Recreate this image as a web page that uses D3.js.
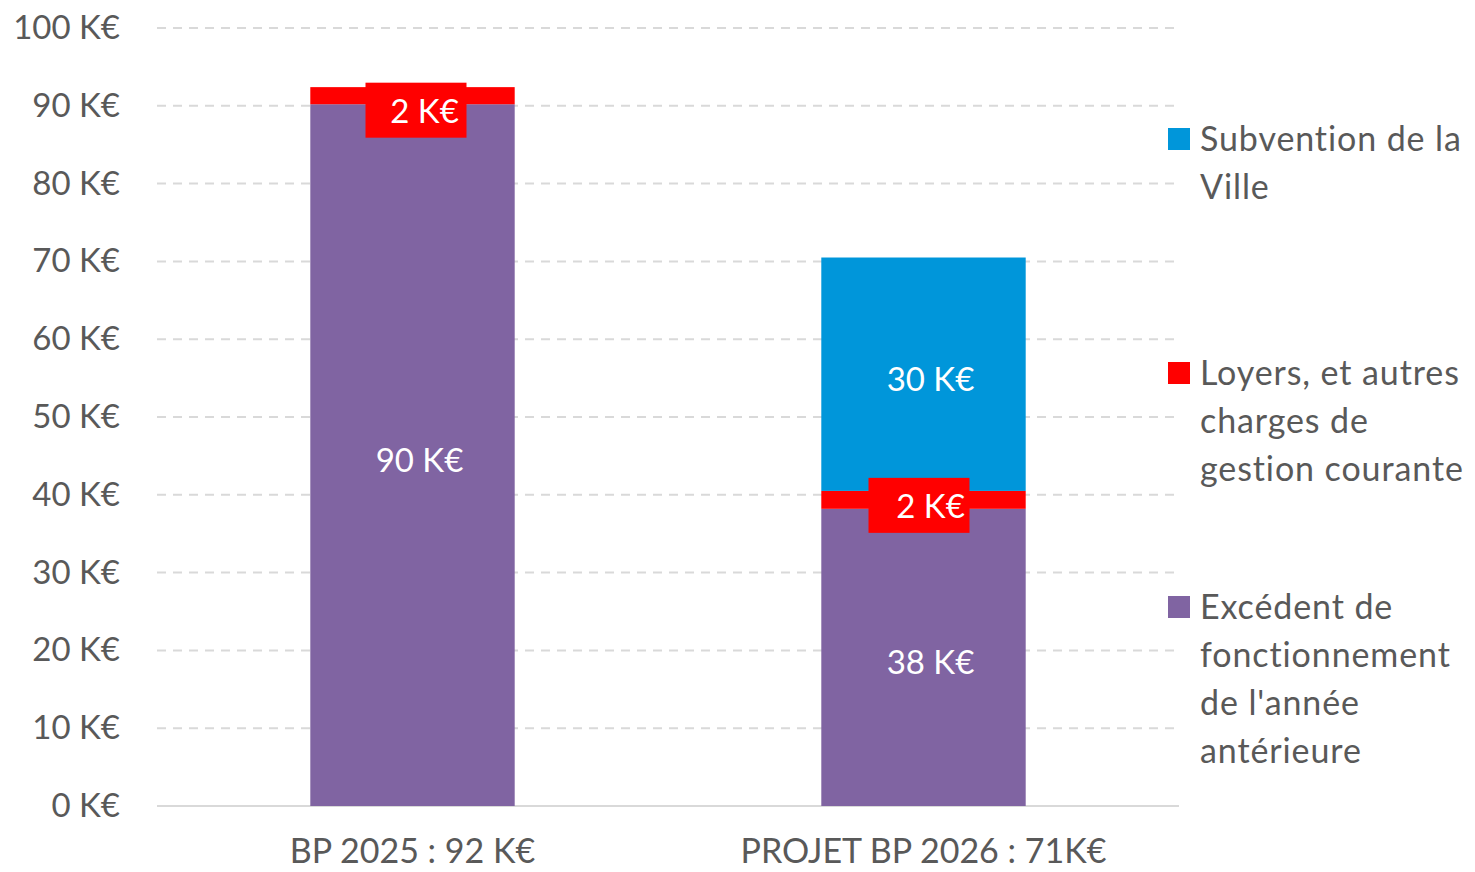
<!DOCTYPE html>
<html>
<head>
<meta charset="utf-8">
<script src="https://cdn.jsdelivr.net/npm/d3@7"></script>
<style>
  body { margin: 0; background: #fff; }
  svg text { font-family: Lato, "Open Sans", sans-serif; }
</style>
</head>
<body>
<div id="chart"></div>
<script>
// data
const categories = ['BP 2025 : 92 K€', 'PROJET BP 2026 : 71K€'];
const excedent = [90.2, 38.2];
const loyers = [2.2, 2.3];
const subvention = [0, 30];
const tickValues = [0, 10, 20, 30, 40, 50, 60, 70, 80, 90, 100];
const seriesNames = ['Excédent de fonctionnement de l\'année antérieure',
                     'Loyers, et autres charges de gestion courante',
                     'Subvention de la Ville'];
const labelTexts = [['90 K€', '38 K€'], ['2 K€', '2 K€'], ['', '30 K€']];

const width = 1475, height = 872;
const colors = ['#8064A2', '#FF0000', '#0096DA'];
const textGray = '#595959';
// small nudges of the boxed red labels, per bar (as placed in the original)
const boxShiftX = [4, -4];
const boxShiftY = [14, 5];
const boxTextShiftX = [8, 11];

const svg = d3.select('#chart').append('svg')
    .attr('width', width)
    .attr('height', height);

const x = d3.scaleBand()
    .domain(categories)
    .range([157, 1179])
    .paddingInner(0.6)
    .paddingOuter(0.3);
const y = d3.scaleLinear()
    .domain([0, 100])
    .range([806, 28]);

// gridlines
svg.append('g')
    .selectAll('line')
    .data(tickValues.filter(d => d > 0))
    .enter()
    .append('line')
    .attr('x1', 157)
    .attr('x2', 1179)
    .attr('y1', d => y(d))
    .attr('y2', d => y(d))
    .attr('stroke', '#D9D9D9')
    .attr('stroke-width', 2)
    .attr('stroke-dasharray', '9,7');
svg.append('line')
    .attr('x1', 157).attr('x2', 1179)
    .attr('y1', y(0)).attr('y2', y(0))
    .attr('stroke', '#D9D9D9')
    .attr('stroke-width', 2);

// y axis labels
const yAxis = svg.append('g')
    .attr('transform', 'translate(120,0)')
    .call(d3.axisLeft(y).tickValues(tickValues).tickSize(0).tickPadding(0)
        .tickFormat(d => d + ' K€'));
yAxis.select('.domain').remove();
yAxis.selectAll('text')
    .attr('fill', textGray)
    .style('font-size', '33px');

// x axis labels
const xAxis = svg.append('g')
    .attr('transform', `translate(0,${y(0)})`)
    .call(d3.axisBottom(x).tickSize(0).tickPadding(45));
xAxis.select('.domain').remove();
xAxis.selectAll('text')
    .attr('fill', textGray)
    .attr('dy', '0.35em')
    .style('font-size', '34px');

// stacked segments
const seriesData = [excedent, loyers, subvention];
const stacked = categories.map((c, i) => {
    let base = 0;
    return seriesData.map((s, k) => {
        const seg = { cat: c, i: i, k: k, y0: base, y1: base + s[i], label: labelTexts[k][i] };
        base += s[i];
        return seg;
    });
}).flat();

svg.append('g')
    .selectAll('rect')
    .data(stacked.filter(d => d.y1 > d.y0))
    .enter()
    .append('rect')
    .attr('x', d => x(d.cat))
    .attr('y', d => y(d.y1))
    .attr('width', x.bandwidth())
    .attr('height', d => y(d.y0) - y(d.y1))
    .attr('fill', d => colors[d.k]);

// data labels
const labels = svg.append('g');
stacked.filter(d => d.label).forEach(d => {
    const cx = x(d.cat) + x.bandwidth() / 2;
    let cy = (y(d.y0) + y(d.y1)) / 2 + 3;
    let tx = cx + 7;
    if (d.k === 1) {
        cy = (y(d.y0) + y(d.y1)) / 2 + boxShiftY[d.i];
        const bx = cx + boxShiftX[d.i];
        labels.append('rect')
            .attr('x', bx - 51)
            .attr('y', cy - 27)
            .attr('width', 101)
            .attr('height', 55)
            .attr('fill', colors[1]);
        tx = bx + boxTextShiftX[d.i];
    }
    labels.append('text')
        .attr('x', tx)
        .attr('y', cy + 2)
        .attr('dy', '0.35em')
        .attr('text-anchor', 'middle')
        .attr('fill', '#fff')
        .style('font-size', '33px')
        .text(d.label);
});

// legend
const legendItems = [
    { k: 2, lines: ['Subvention de la', 'Ville'], y: 139 },
    { k: 1, lines: ['Loyers, et autres', 'charges de', 'gestion courante'], y: 373 },
    { k: 0, lines: ['Excédent de', 'fonctionnement', 'de l\'année', 'antérieure'], y: 607 }
];
const legend = svg.append('g');
legendItems.forEach(item => {
    legend.append('rect')
        .attr('x', 1168)
        .attr('y', item.y - 11)
        .attr('width', 22)
        .attr('height', 22)
        .attr('fill', colors[item.k]);
    item.lines.forEach((line, j) => {
        legend.append('text')
            .attr('x', 1200)
            .attr('y', item.y + j * 48)
            .attr('dy', '0.35em')
            .attr('fill', textGray)
            .style('font-size', '34px')
            .style('letter-spacing', '0.9px')
            .text(line);
    });
});
</script>
</body>
</html>
